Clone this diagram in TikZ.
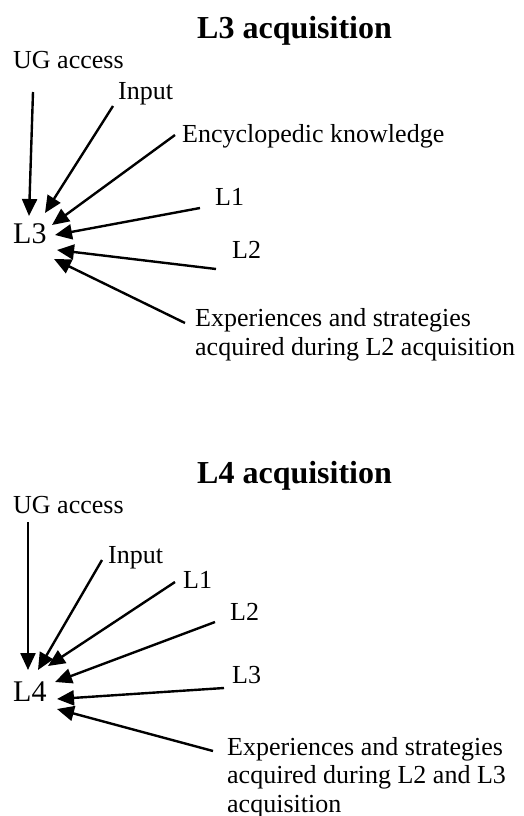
\documentclass[tikz,border=0pt]{standalone}
\usepackage{fontspec}
\setmainfont{Liberation Serif}
\usetikzlibrary{arrows.meta}

\begin{document}
\begin{tikzpicture}
[x=1pt,y=-1pt,%
  lineDecorate/.style={-{Triangle[length=17pt,width=15pt]},line width=2.4pt},%
  nodeDecorate/.style={inner sep=0pt,anchor=base west,font=\fontsize{26}{29}\selectfont},%
  titleDecorate/.style={nodeDecorate,font=\fontsize{32}{36}\selectfont\bfseries},%
  targetDecorate/.style={nodeDecorate,font=\fontsize{30}{34}\selectfont}]
\useasboundingbox (0,0) rectangle (524,816);
%% titles and targets
\node (titleA) at (197,38) [titleDecorate] {L3 acquisition};
\node (titleB) at (197,483) [titleDecorate] {L4 acquisition};
\node (lThreeA) at (13,243) [targetDecorate] {L3};
\node (lFourB) at (13,701) [targetDecorate] {L4};
%% factor labels
\foreach \nodename/\x/\y/\txt in {
  ugA/13/68/UG access, inputA/118/99/Input, encA/182/142/Encyclopedic knowledge,
  lOneA/215/205/L1, lTwoA/232/258/L2,
  ugB/13/513/UG access, inputB/108/563/Input, lOneB/183/588/L1,
  lTwoB/230/620/L2, lThreeB/232/683/L3}
{
  \node (\nodename) at (\x,\y) [nodeDecorate] {\txt};
}
%% base of a multi-line node is its last line
\node (expA) at (195,355) [nodeDecorate,align=left]
  {Experiences and strategies\\acquired during L2 acquisition};
\node (expB) at (227,812) [nodeDecorate,align=left,font=\fontsize{26}{28.5}\selectfont]
  {Experiences and strategies\\acquired during L2 and L3\\acquisition};
%% arrow ends
\foreach \cname/\x/\y in {
  ugAs/33/92, ugAt/29/216, inputAs/113/106, inputAt/45/213,
  encAs/175/135, encAt/52/225, lOneAs/200/208, lOneAt/55/235,
  lTwoAs/216/269, lTwoAt/57/250, expAs/185/323, expAt/54/259,
  ugBs/28/522, ugBt/28/670, inputBs/102/560, inputBt/38/670,
  lOneBs/175/582, lOneBt/48/666, lTwoBs/215/622, lTwoBt/55/682,
  lThreeBs/224/688, lThreeBt/57/699, expBs/213/751, expBt/57/709}
{
  \coordinate (\cname) at (\x,\y);
}
%% arrows
\foreach \name in {ugA, inputA, encA, lOneA, lTwoA, expA,
  ugB, inputB, lOneB, lTwoB, lThreeB, expB}
{
  \draw[lineDecorate] (\name s) -- (\name t);
}
\end{tikzpicture}
\end{document}
